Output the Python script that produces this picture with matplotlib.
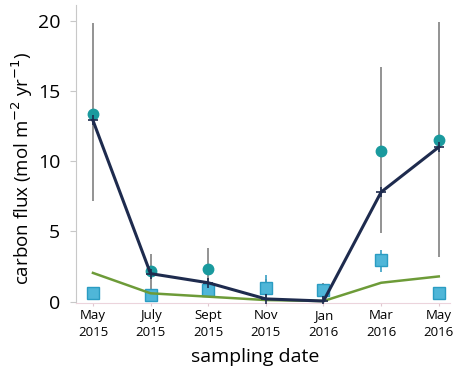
import matplotlib
matplotlib.use("Agg")
import matplotlib.pyplot as plt
import numpy as np

plt.rcParams['font.family'] = ['Open Sans', 'DejaVu Sans']

dates = ["May\n2015", "July\n2015", "Sept\n2015", "Nov\n2015", "Jan\n2016", "Mar\n2016", "May\n2016"]

# total flux (means with their error ranges)
total_mean = [13.35, 2.2, 2.3, 1.0, 0.8, 10.7, 11.5]
total_low = [7.2, 0.4, 0.6, 0.3, 0.2, 4.9, 3.2]
total_high = [19.8, 3.4, 3.8, 1.6, 1.3, 16.7, 19.9]

# modelled total flux
model_total = [12.9, 2.0, 1.35, 0.2, 0.05, 7.8, 11.0]

# secondary flux (means with error ranges)
minor_mean = [0.6, 0.48, 0.8, 0.95, 0.8, 3.0, 0.62]
minor_low = [0.4, 0.2, 0.6, 0.6, 0.5, 2.1, 0.45]
minor_high = [0.8, 0.7, 1.0, 1.9, 1.2, 3.7, 0.8]

# modelled secondary flux
model_minor = [2.05, 0.6, 0.36, 0.12, 0.05, 1.35, 1.8]

x = np.arange(len(dates))

fig = plt.figure(figsize=(4.53, 3.67), dpi=100)
ax = fig.add_axes([0.167, 0.174, 0.827, 0.812])

tm = np.array(total_mean)
ax.errorbar(x, tm, yerr=[tm - np.array(total_low), np.array(total_high) - tm],
            fmt='o', color='#1a9a9e', ecolor='#808080', elinewidth=1.2,
            markersize=7.5, capsize=0, zorder=2)

mm = np.array(minor_mean)
ax.errorbar(x, mm, yerr=[mm - np.array(minor_low), np.array(minor_high) - mm],
            fmt='s', color='#4fb6d8', markeredgecolor='#2a9cc2', ecolor='#3a9fc4',
            elinewidth=1.2, markersize=8.5, capsize=0, zorder=3)

ax.plot(x, model_minor, color='#6d9b38', lw=1.8, zorder=4)
ax.plot(x, model_total, color='#1e2b4e', lw=2.2, marker='+', markersize=7,
        markeredgewidth=1.2, zorder=5)

ax.set_xlim(-0.3, 6.2)
ax.set_ylim(-0.1, 21.1)
ax.set_yticks([0, 5, 10, 15, 20])
ax.set_xticks(x)
ax.set_xticklabels(dates, fontsize=9.5, linespacing=1.45)
ax.tick_params(axis='y', labelsize=14, length=4, color='#c8c8c8', pad=7)
ax.tick_params(axis='x', length=2, color='#e0c8d0', pad=2)

for side in ('top', 'right'):
    ax.spines[side].set_visible(False)
ax.spines['left'].set_color('#c8c8c8')
ax.spines['bottom'].set_color('#ecd4dc')

fig.text(22 / 453, 1 - 168 / 367, "carbon flux (mol m$^{-2}$ yr$^{-1}$)",
         rotation=90, ha='center', va='center', fontsize=13.5)
fig.text(255 / 453, 1 - 362 / 367, "sampling date",
         ha='center', va='baseline', fontsize=14)

fig.savefig("out.png", dpi=100)
